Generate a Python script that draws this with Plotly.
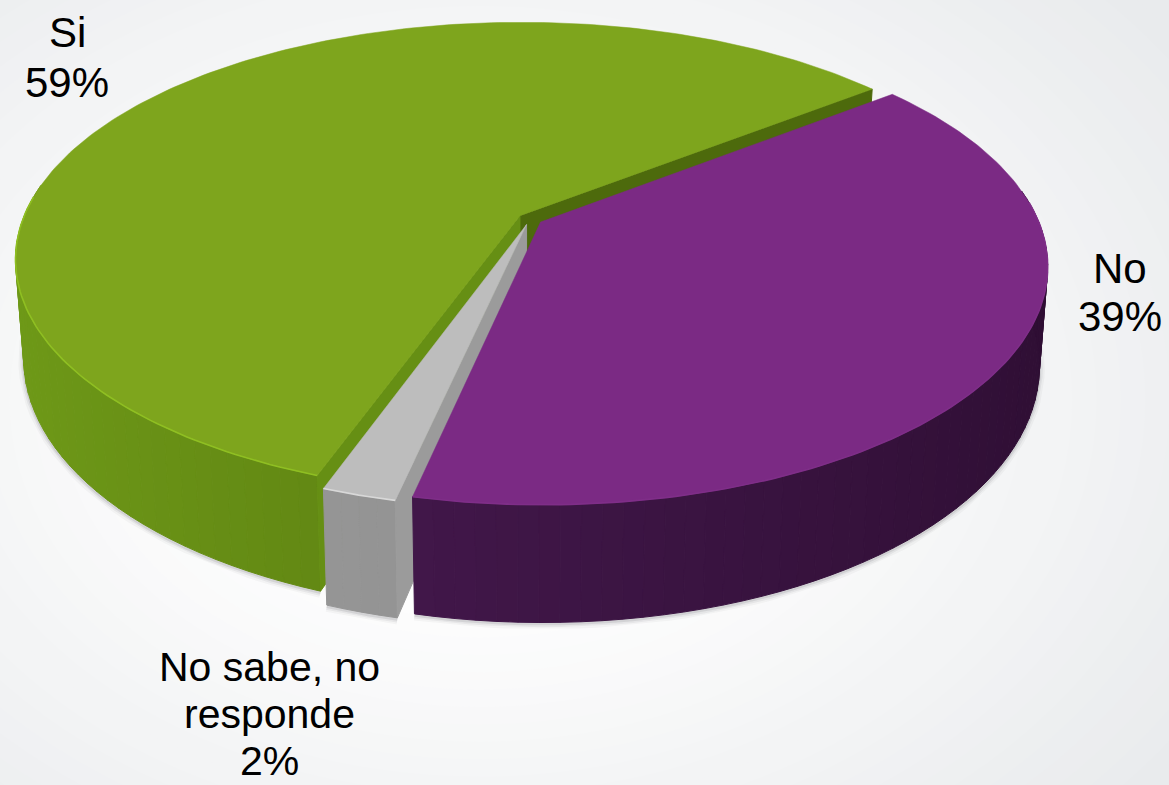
import math
import plotly.graph_objects as go

# Data
slice_labels = ["Si", "No sabe, no responde", "No"]
slice_values = [59, 2, 39]
label_lines = [["Si", "59%"], ["No sabe, no", "responde", "2%"], ["No", "39%"]]

# Colours per slice
top_colors = ["#7ea51d", "#bdbdbd", "#7b2a84"]
rim_colors = ["#8fbf22", "#d8d8d8", "#7f2e88"]
wall_left = ["#6f9a18", "#9c9c9c", "#4c1c56"]
wall_right = ["#587a10", "#868686", "#2e0e33"]
cut_start = ["#4d6a0c", None, None]
cut_end = ["#668f14", "#9b9b9b", None]

# Projection of the tilted disc
CX, CY = 530.0, 219.0
A, B, K = 497.0, 229.8, 0.1826
DEPTH, TAPER = 96.0, 0.016
EXPLODE = 0.025
START_DEG = 38.0


def project(u, v, h=0.0):
    w = 1 - K * v
    return CX + A * u * (1 - TAPER * h) / w, CY + (B * v + DEPTH * h) / w


def lerp_color(c1, c2, t):
    a = [int(c1[i:i + 2], 16) for i in (1, 3, 5)]
    b = [int(c2[i:i + 2], 16) for i in (1, 3, 5)]
    return "#%02x%02x%02x" % tuple(round(p + (q - p) * t) for p, q in zip(a, b))


def poly(xs, ys, color):
    return go.Scatter(x=xs, y=ys, mode="lines", fill="toself", fillcolor=color,
                      line=dict(color=color, width=1), hoverinfo="skip", showlegend=False)


fig = go.Figure()

# Compute slices from the values
total = sum(slice_values)
slices = []
angle = START_DEG
for val in slice_values:
    sweep = 360.0 * val / total
    slices.append((angle, angle + sweep))
    angle += sweep


def disc_point(a_deg, ou, ov, h=0.0):
    r = math.radians(a_deg)
    return project(ou + math.cos(r), ov - math.sin(r), h)


# Soft ground shadow along the lower outline
for lw, alpha in ((11, 0.04), (7, 0.06), (3.5, 0.10)):
    for i, (a0, a1) in enumerate(slices):
        mid = math.radians((a0 + a1) / 2)
        ou, ov = EXPLODE * math.cos(mid), -EXPLODE * math.sin(mid)
        n = 80
        arc = [a0 + (a1 - a0) * j / n for j in range(n + 1)]
        arc = [x for x in arc if math.sin(math.radians(x)) < 0.25]
        pts = [disc_point(x, ou, ov, 1.01) for x in arc]
        fig.add_trace(go.Scatter(x=[p[0] for p in pts], y=[p[1] for p in pts], mode="lines",
                                 line=dict(color=f"rgba(40,40,50,{alpha})", width=lw),
                                 hoverinfo="skip", showlegend=False))

for i, (a0, a1) in enumerate(slices):
    mid = math.radians((a0 + a1) / 2)
    ou, ov = EXPLODE * math.cos(mid), -EXPLODE * math.sin(mid)

    # Outer wall, as narrow shaded bands
    steps = max(4, int((a1 - a0) / 2))
    for j in range(steps):
        t0 = a0 + (a1 - a0) * j / steps
        t1 = a0 + (a1 - a0) * (j + 1) / steps
        tm = (t0 + t1) / 2
        s = math.sin(math.radians(tm))
        if s > 0.15:
            continue
        c = math.cos(math.radians(tm))
        col = lerp_color(wall_left[i], wall_right[i], (1 + c * 1.05) / 2.1 if i != 0 else min(1, (1 + c) / 1.25))
        p = [disc_point(t0, ou, ov), disc_point(t1, ou, ov),
             disc_point(t1, ou, ov, 1), disc_point(t0, ou, ov, 1)]
        fig.add_trace(poly([q[0] for q in p] + [p[0][0]], [q[1] for q in p] + [p[0][1]], col))

    # Flat cut faces
    apex_top = project(ou, ov)
    apex_bot = project(ou, ov, 1)
    for edge, col in ((a0, cut_start[i]), (a1, cut_end[i])):
        if col is None:
            continue
        e_top = disc_point(edge, ou, ov)
        e_bot = disc_point(edge, ou, ov, 1)
        xs = [apex_top[0], e_top[0], e_bot[0], apex_bot[0], apex_top[0]]
        ys = [apex_top[1], e_top[1], e_bot[1], apex_bot[1], apex_top[1]]
        fig.add_trace(poly(xs, ys, col))

    # Top face
    n = max(8, int(a1 - a0))
    rim = [disc_point(a0 + (a1 - a0) * j / n, ou, ov) for j in range(n + 1)]
    xs = [apex_top[0]] + [q[0] for q in rim] + [apex_top[0]]
    ys = [apex_top[1]] + [q[1] for q in rim] + [apex_top[1]]
    fig.add_trace(go.Scatter(x=xs, y=ys, mode="lines", fill="toself", fillcolor=top_colors[i],
                             line=dict(color=top_colors[i], width=0.5),
                             hoverinfo="skip", showlegend=False))

    # Bright rim on the front edge of the top face
    front = [disc_point(a0 + (a1 - a0) * j / n, ou, ov) for j in range(n + 1)
             if math.sin(math.radians(a0 + (a1 - a0) * j / n)) < 0.1]
    fig.add_trace(go.Scatter(x=[q[0] for q in front], y=[q[1] for q in front], mode="lines",
                             line=dict(color=rim_colors[i], width=1.6),
                             hoverinfo="skip", showlegend=False))

# Background: soft radial vignette
shapes = []
bands = 24
for b in range(bands):
    t = b / (bands - 1)
    shade = lerp_color("#e9ebed", "#fdfdfd", t)
    rx, ry = 860 - 560 * t, 620 - 400 * t
    shapes.append(dict(type="circle", layer="below", xref="x", yref="y",
                       x0=480 - rx, x1=480 + rx, y0=400 - ry, y1=400 + ry,
                       fillcolor=shade, line=dict(width=0)))

# Labels, one annotation per text line
line_pos = [
    [(67, 32), (67, 82)],
    [(269, 667), (269, 714), (269, 761)],
    [(1120, 268), (1120, 316)],
]
line_size = [42, 41, 42]
annotations = []
for lines, positions, fs in zip(label_lines, line_pos, line_size):
    for txt, (lx, ly) in zip(lines, positions):
        annotations.append(dict(x=lx, y=ly, text=txt, showarrow=False, xref="x", yref="y",
                                xanchor="center", yanchor="middle",
                                font=dict(family="Liberation Sans, Arial, sans-serif",
                                          size=fs, color="#000000")))

fig.update_layout(
    width=1169, height=785, margin=dict(l=0, r=0, t=0, b=0),
    paper_bgcolor="#e9ebed", plot_bgcolor="#e9ebed", showlegend=False,
    xaxis=dict(range=[0, 1169], visible=False, fixedrange=True),
    yaxis=dict(range=[785, 0], visible=False, fixedrange=True),
    shapes=shapes, annotations=annotations,
)

fig.write_html("out.html", config={"displayModeBar": False},
               post_script="document.body.style.margin='0';document.body.style.overflow='hidden';")
